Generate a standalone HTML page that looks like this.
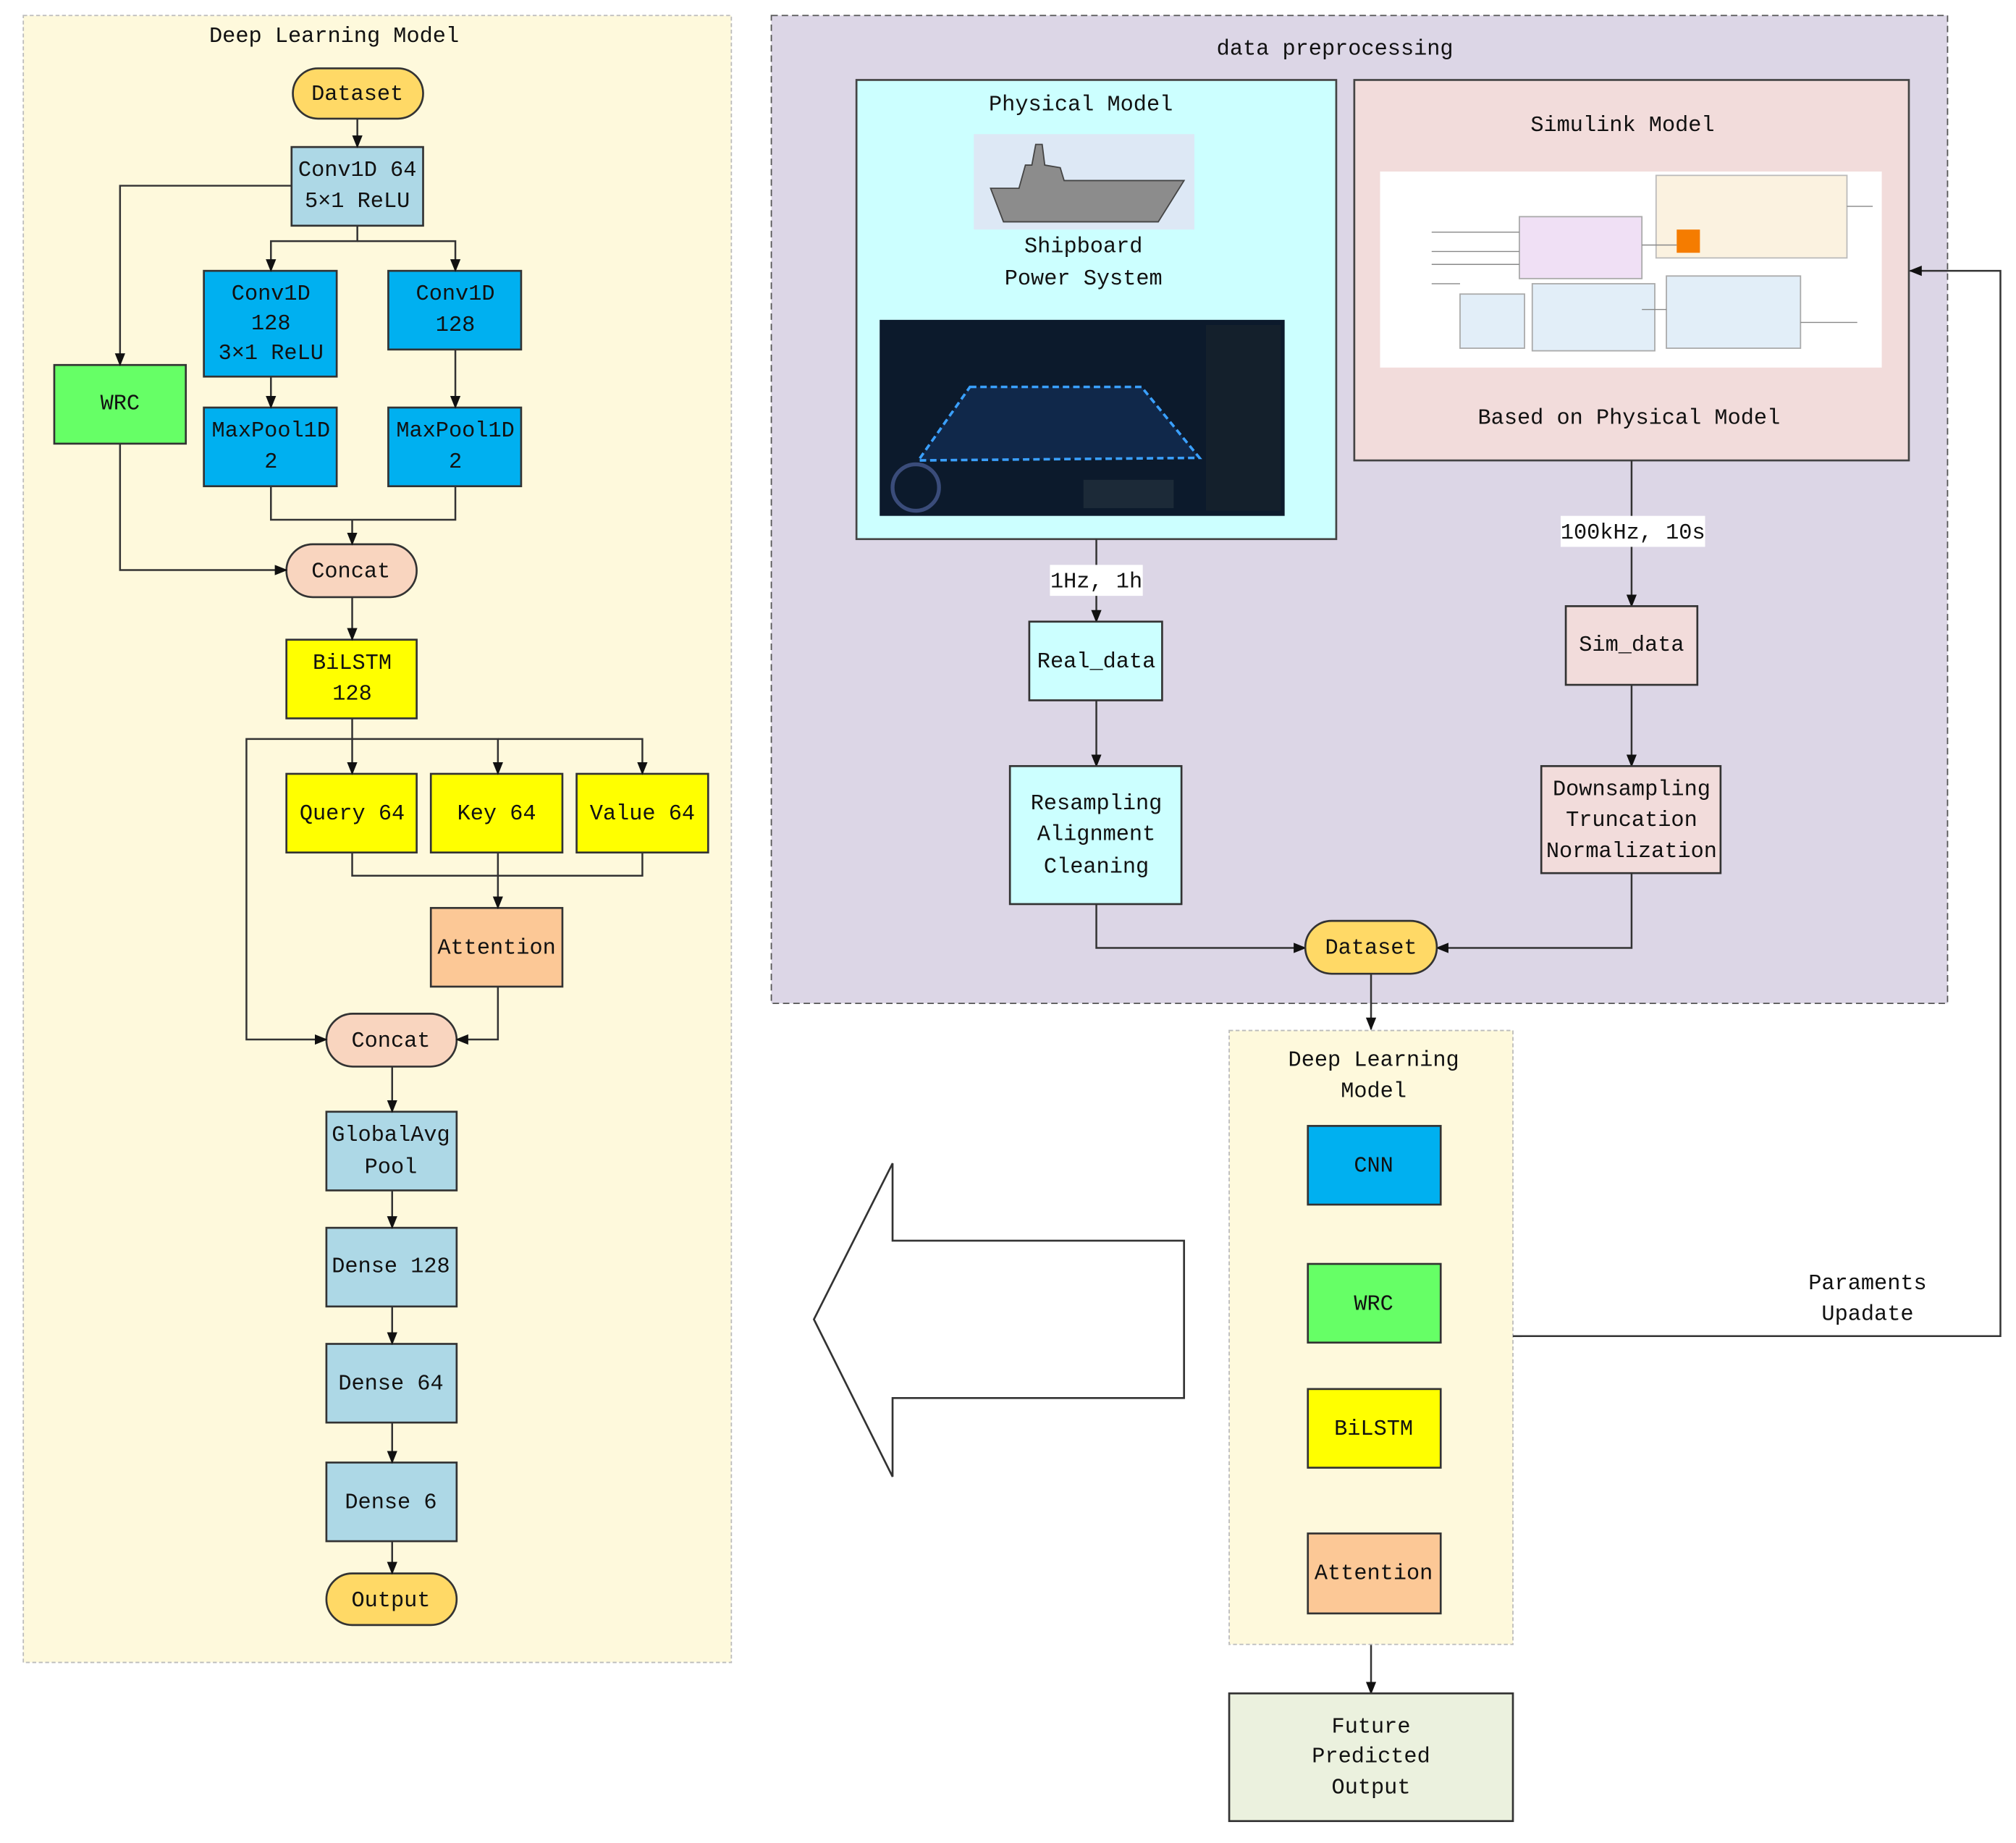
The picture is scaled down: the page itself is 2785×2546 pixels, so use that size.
<!DOCTYPE html>
<html><head><meta charset="utf-8"><style>
html,body{margin:0;padding:0;background:#fff}
svg{display:block}
text{font-family:"Liberation Mono","Noto Sans CJK SC",monospace;font-size:17px;fill:#111;text-anchor:middle;dominant-baseline:middle}
</style></head><body>
<svg width="2785" height="2546" viewBox="0 0 1563 1429" xmlns="http://www.w3.org/2000/svg">
<defs><marker id="a" markerWidth="10" markerHeight="10" refX="9" refY="5" orient="auto" markerUnits="userSpaceOnUse"><path d="M0,1 L10,5 L0,9z" fill="#111"/></marker></defs>
<rect width="1563" height="1429" fill="#fff"/>
<!-- Left panel -->
<rect x="18" y="12" width="549" height="1277" fill="#fef9dc" stroke="#bbb" stroke-dasharray="3,2"/>
<text x="259" y="28">Deep Learning Model</text>
<g stroke="#333" stroke-width="1.5">
<rect x="227" y="53" width="101" height="39" rx="19.5" fill="#ffd966"/>
<rect x="226" y="114" width="102" height="61" fill="#add8e6"/>
<rect x="158" y="210" width="103" height="82" fill="#00b0f0"/>
<rect x="301" y="210" width="103" height="61" fill="#00b0f0"/>
<rect x="158" y="316" width="103" height="61" fill="#00b0f0"/>
<rect x="301" y="316" width="103" height="61" fill="#00b0f0"/>
<rect x="42" y="283" width="102" height="61" fill="#66ff66"/>
<rect x="222" y="422" width="101" height="41" rx="20.5" fill="#f9d5bf"/>
<rect x="222" y="496" width="101" height="61" fill="#ffff00"/>
<rect x="222" y="600" width="101" height="61" fill="#ffff00"/>
<rect x="334" y="600" width="102" height="61" fill="#ffff00"/>
<rect x="447" y="600" width="102" height="61" fill="#ffff00"/>
<rect x="334" y="704" width="102" height="61" fill="#fcc896"/>
<rect x="253" y="786" width="101" height="41" rx="20.5" fill="#f9d5bf"/>
<rect x="253" y="862" width="101" height="61" fill="#add8e6"/>
<rect x="253" y="952" width="101" height="61" fill="#add8e6"/>
<rect x="253" y="1042" width="101" height="61" fill="#add8e6"/>
<rect x="253" y="1134" width="101" height="61" fill="#add8e6"/>
<rect x="253" y="1220" width="101" height="40" rx="20" fill="#ffd966"/>
</g>
<g stroke="#333" stroke-width="1.4" fill="none" marker-end="url(#a)">
<path d="M277,92V114"/>
<path d="M226,144H93V283"/>
<path d="M277,175V187H210V210"/>
<path d="M277,187H353V210"/>
<path d="M210,292V316"/>
<path d="M353,271V316"/>
<path d="M273,403V422"/>
<path d="M93,344V442H222"/>
<path d="M273,463V496"/>
<path d="M273,557V600"/>
<path d="M273,573H386V600"/>
<path d="M386,573H498V600"/>
<path d="M273,573H191V806H253"/>
<path d="M386,679V704"/>
<path d="M386,765V806H354"/>
<path d="M304,827V862"/>
<path d="M304,923V952"/>
<path d="M304,1013V1042"/>
<path d="M304,1103V1134"/>
<path d="M304,1195V1220"/>
</g>
<g stroke="#333" stroke-width="1.4" fill="none">
<path d="M210,377V403H353V377"/>
<path d="M273,661V679H498V661M386,661V679"/>
</g>
<text x="277" y="73">Dataset</text>
<text x="277" y="132">Conv1D 64</text><text x="277" y="156">5×1 ReLU</text>
<text x="210" y="228">Conv1D</text><text x="210" y="251">128</text><text x="210" y="274">3×1 ReLU</text>
<text x="353" y="228">Conv1D</text><text x="353" y="252">128</text>
<text x="210" y="334">MaxPool1D</text><text x="210" y="358">2</text>
<text x="353" y="334">MaxPool1D</text><text x="353" y="358">2</text>
<text x="93" y="313">WRC</text>
<text x="272" y="443">Concat</text>
<text x="273" y="514">BiLSTM</text><text x="273" y="538">128</text>
<text x="273" y="631">Query 64</text><text x="385" y="631">Key 64</text><text x="498" y="631">Value 64</text>
<text x="385" y="735">Attention</text>
<text x="303" y="807">Concat</text>
<text x="303" y="880">GlobalAvg</text><text x="303" y="905">Pool</text>
<text x="303" y="982">Dense 128</text>
<text x="303" y="1073">Dense 64</text>
<text x="303" y="1165">Dense 6</text>
<text x="303" y="1241">Output</text>

<!-- Right top panel -->
<rect x="598" y="12" width="912" height="766" fill="#dcd6e6" stroke="#555" stroke-dasharray="5,3"/>
<text x="1035" y="38">data preprocessing</text>
<rect x="664" y="62" width="372" height="356" fill="#ccffff" stroke="#444" stroke-width="1.5"/>
<text x="838" y="81">Physical Model</text>
<rect x="755" y="104" width="171" height="74" fill="#dde8f5"/>
<path d="M768,146 L790,146 L795,128 L800,128 L803,112 L808,112 L810,128 L822,130 L825,140 L918,140 L898,172 L778,172 Z" fill="#8c8c8c" stroke="#444"/>
<text x="840" y="191">Shipboard</text><text x="840" y="216">Power System</text>
<rect x="682" y="248" width="314" height="152" fill="#0c1a2c"/>
<path d="M752,300 L885,300 L930,355 L712,357 Z" fill="#10284a" stroke="#3aa0ff" stroke-width="2" stroke-dasharray="5,3"/>
<rect x="935" y="252" width="58" height="144" fill="#14202c"/>
<circle cx="710" cy="378" r="18" fill="none" stroke="#3a4c7a" stroke-width="3"/>
<rect x="840" y="372" width="70" height="22" fill="#1c2a38"/>
<rect x="1050" y="62" width="430" height="295" fill="#f2dcdb" stroke="#444" stroke-width="1.5"/>
<text x="1258" y="97">Simulink Model</text>
<rect x="1070" y="133" width="389" height="152" fill="#fff"/>
<rect x="1178" y="168" width="95" height="48" fill="#f0e0f5" stroke="#aaa"/>
<rect x="1284" y="136" width="148" height="64" fill="#fbf2e0" stroke="#bbb"/>
<rect x="1300" y="178" width="18" height="18" fill="#f57c00"/>
<rect x="1132" y="228" width="50" height="42" fill="#e2eef8" stroke="#aaa"/>
<rect x="1188" y="220" width="95" height="52" fill="#e2eef8" stroke="#aaa"/>
<rect x="1292" y="214" width="104" height="56" fill="#e2eef8" stroke="#aaa"/>
<g stroke="#888" fill="none" stroke-width="0.8"><path d="M1110,180H1178M1110,195H1178M1110,205H1178M1273,190H1300M1110,220H1132M1273,240H1292M1396,250H1440M1432,160H1452"/></g>
<text x="1263" y="324">Based on Physical Model</text>
<g stroke="#333" stroke-width="1.4" fill="none" marker-end="url(#a)">
<path d="M850,418V482"/>
<path d="M850,543V594"/>
<path d="M850,701V735H1012"/>
<path d="M1265,357V470"/>
<path d="M1265,531V594"/>
<path d="M1265,677V735H1114"/>
<path d="M1063,755V798"/>
<path d="M1066,934V980"/>
<path d="M1066,1041V1077"/>
<path d="M1066,1138V1189"/>
<path d="M1063,1275V1313"/>
<path d="M1173,1036H1551V210H1481"/>
</g>
<rect x="814" y="438" width="72" height="24" fill="#fff"/>
<text x="850" y="451">1Hz, 1h</text>
<rect x="1210" y="400" width="112" height="24" fill="#fff"/>
<text x="1266" y="413">100kHz, 10s</text>
<g stroke="#333" stroke-width="1.5">
<rect x="798" y="482" width="103" height="61" fill="#ccffff"/>
<rect x="783" y="594" width="133" height="107" fill="#ccffff"/>
<rect x="1214" y="470" width="102" height="61" fill="#f2dcdb"/>
<rect x="1195" y="594" width="139" height="83" fill="#f2dcdb"/>
<rect x="1012" y="714" width="102" height="41" rx="20.5" fill="#ffd966"/>
</g>
<text x="850" y="513">Real_data</text>
<text x="850" y="623">Resampling</text><text x="850" y="647">Alignment</text><text x="850" y="672">Cleaning</text>
<text x="1265" y="500">Sim_data</text>
<text x="1265" y="612">Downsampling</text><text x="1265" y="636">Truncation</text><text x="1265" y="660">Normalization</text>
<text x="1063" y="735">Dataset</text>

<!-- Deep learning small -->
<rect x="953" y="799" width="220" height="476" fill="#fef9dc" stroke="#bbb" stroke-dasharray="3,2"/>
<text x="1065" y="822">Deep Learning</text><text x="1065" y="846">Model</text>
<g stroke="#333" stroke-width="1.5">
<rect x="1014" y="873" width="103" height="61" fill="#00b0f0"/>
<rect x="1014" y="980" width="103" height="61" fill="#66ff66"/>
<rect x="1014" y="1077" width="103" height="61" fill="#ffff00"/>
<rect x="1014" y="1189" width="103" height="62" fill="#fcc896"/>
<rect x="953" y="1313" width="220" height="99" fill="#ebf1de"/>
</g>
<g stroke="#333" stroke-width="1.4" fill="none"><path d="M1173,1036H1180"/></g>
<text x="1065" y="904">CNN</text>
<text x="1065" y="1011">WRC</text>
<text x="1065" y="1108">BiLSTM</text>
<text x="1065" y="1220">Attention</text>
<text x="1063" y="1339">Future</text><text x="1063" y="1362">Predicted</text><text x="1063" y="1386">Output</text>
<text x="1448" y="995">Paraments</text><text x="1448" y="1019">Upadate</text>
<polygon points="918,962 692,962 692,902 631,1023 692,1145 692,1084 918,1084" fill="#fff" stroke="#333" stroke-width="1.5"/>
</svg>
</body></html>
